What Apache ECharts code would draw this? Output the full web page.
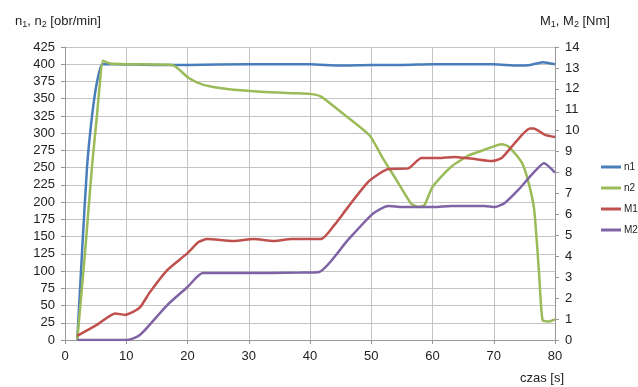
<!DOCTYPE html>
<html>
<head>
<meta charset="utf-8">
<script src="https://cdn.jsdelivr.net/npm/echarts@6/dist/echarts.min.js"></script>
<style>html,body{margin:0;padding:0;background:#fff;}#c{width:638px;height:387px;}</style>
</head>
<body>
<div id="c"></div>
<script>
// ---- data ----
const xTicks = [0, 10, 20, 30, 40, 50, 60, 70, 80];
const n1Time = [2, 2.8, 3.6, 4.4, 5.2, 6.1, 8, 15, 20, 30, 40, 45, 50, 55, 60, 65, 70, 74, 76, 78, 80];
const n1Vals = [0, 130, 251, 324, 373, 400, 400, 399, 399, 400, 400, 398, 399, 399, 400, 400, 400, 398, 399, 403, 400];
const n2Time = [2, 3.3, 4.4, 5.2, 5.7, 6.2, 7.4, 10, 17.5, 20.2, 22.6, 26.5, 32, 37, 40, 41.8, 45, 49.7, 52, 54.4, 56.5, 57.7, 58.7, 60, 63, 66, 68.5, 71.3, 72.5, 74.6, 75.7, 76.6, 77.4, 78, 79, 80];
const n2Vals = [0, 130, 251, 324, 373, 405, 401, 400, 399, 380, 370, 364, 360, 358, 357, 353, 331, 297, 262, 228, 198, 193, 196, 222, 251, 268, 276, 284, 280, 257, 228, 189, 97, 28, 27, 30];
const m1Time = [2, 5.2, 8.2, 9.8, 11.1, 12.3, 13.9, 16.7, 20, 21.8, 23.2, 27.5, 30.8, 34.1, 37, 41.8, 44, 46.2, 49.5, 51.6, 52.8, 56, 58.2, 61, 63.6, 66.9, 69.7, 71.3, 73.4, 75.9, 76.5, 78.4, 80];
const m1Vals = [0.2, 0.72, 1.27, 1.2, 1.34, 1.58, 2.3, 3.34, 4.15, 4.68, 4.82, 4.73, 4.82, 4.73, 4.82, 4.82, 5.5, 6.35, 7.55, 8.0, 8.17, 8.2, 8.7, 8.7, 8.75, 8.65, 8.55, 8.7, 9.4, 10.1, 10.1, 9.8, 9.7];
const m2Time = [2, 10, 11.8, 12.8, 16.7, 20, 22.5, 28.7, 38.5, 41.5, 46.2, 50, 52.1, 53, 55, 58, 60.3, 63, 68.5, 70.2, 71.8, 74, 76.2, 78.2, 80];
const m2Vals = [0, 0, 0.16, 0.4, 1.67, 2.53, 3.2, 3.2, 3.22, 3.25, 4.78, 5.97, 6.35, 6.4, 6.35, 6.35, 6.35, 6.4, 6.4, 6.35, 6.55, 7.17, 7.9, 8.45, 8.0];
const seriesNames = ['n1', 'n2', 'M1', 'M2'];

const zip = (t, v) => t.map((x, i) => [x, v[i]]);
const FONT = 'Liberation Sans, Arial, sans-serif';
const TXT = '#222';
const GRID = '#c4c4c4';

const chart = echarts.init(document.getElementById('c'), null, {renderer: 'canvas'});
const mkLine = (name, data, color, yIdx) => ({
  name, type: 'line', yAxisIndex: yIdx, data,
  symbol: 'none', smooth: 0.2,
  lineStyle: {color, width: 2.5}, itemStyle: {color}, z: 3
});
chart.setOption({
  animation: false,
  backgroundColor: '#fff',
  textStyle: {fontFamily: FONT},
  title: [
    {text: 'n{s|1}, n{s|2} [obr/min]', left: 10, top: 8,
     textStyle: {fontSize: 13, fontWeight: 'normal', color: TXT, fontFamily: FONT, lineHeight: 16,
       rich: {s: {fontSize: 9, lineHeight: 8, verticalAlign: 'bottom', color: TXT, fontFamily: FONT}}}},
    {text: 'M{s|1}, M{s|2} [Nm]', left: 535, top: 8,
     textStyle: {fontSize: 13, fontWeight: 'normal', color: TXT, fontFamily: FONT, lineHeight: 16,
       rich: {s: {fontSize: 9, lineHeight: 8, verticalAlign: 'bottom', color: TXT, fontFamily: FONT}}}},
    {text: 'czas [s]', left: 515, top: 367,
     textStyle: {fontSize: 13, fontWeight: 'normal', color: TXT, fontFamily: FONT}}
  ],
  legend: {
    orient: 'vertical', left: 596, top: 157, itemWidth: 20, itemHeight: 3, itemGap: 11,
    icon: 'path://M0 0H20V3H0Z',
    data: seriesNames,
    textStyle: {fontSize: 10, color: TXT, fontFamily: FONT, padding: [0, 0, 0, -2]}
  },
  grid: {left: 65, right: 83, top: 47, bottom: 47, containLabel: false},
  xAxis: {
    type: 'value', min: xTicks[0], max: xTicks[xTicks.length - 1], interval: 10,
    axisLine: {lineStyle: {color: '#999'}},
    axisTick: {show: true, length: 4, lineStyle: {color: '#999'}},
    axisLabel: {fontSize: 13, color: TXT, margin: 10, fontFamily: FONT},
    splitLine: {show: true, lineStyle: {color: GRID}}
  },
  yAxis: [
    {type: 'value', min: 0, max: 425, interval: 25, position: 'left',
     axisLine: {show: true, lineStyle: {color: '#999'}},
     axisTick: {show: true, length: 4, lineStyle: {color: '#999'}},
     axisLabel: {fontSize: 13, color: TXT, margin: 10, fontFamily: FONT},
     splitLine: {show: true, lineStyle: {color: GRID}}},
    {type: 'value', min: 0, max: 14, interval: 1, position: 'right',
     axisLine: {show: true, lineStyle: {color: '#999'}},
     axisTick: {show: true, length: 4, lineStyle: {color: '#999'}},
     axisLabel: {fontSize: 13, color: TXT, margin: 10, fontFamily: FONT},
     splitLine: {show: false}}
  ],
  series: [
    mkLine(seriesNames[0], zip(n1Time, n1Vals), '#4a7ebb', 0),
    mkLine(seriesNames[1], zip(n2Time, n2Vals), '#9bbb59', 0),
    mkLine(seriesNames[2], zip(m1Time, m1Vals), '#c0504d', 1),
    mkLine(seriesNames[3], zip(m2Time, m2Vals), '#7f64a5', 1)
  ]
});
</script>
</body>
</html>
